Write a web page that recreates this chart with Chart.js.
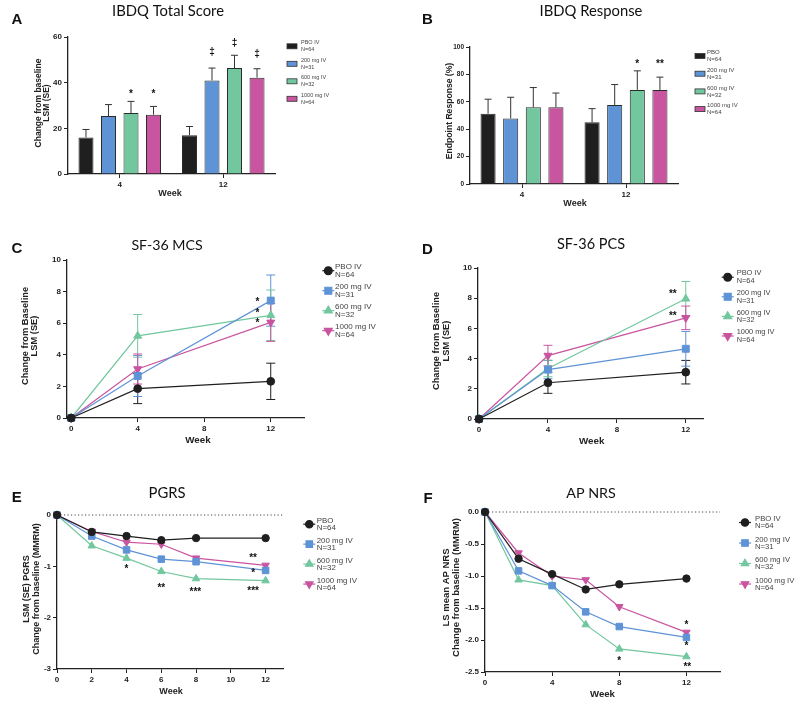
<!DOCTYPE html>
<html>
<head>
<meta charset="utf-8">
<script src="https://cdn.jsdelivr.net/npm/chart.js@4.4.1/dist/chart.umd.min.js"></script>
<style>
  body { margin: 0; background: #fff; }
  #fig { position: relative; width: 800px; height: 708px; }
  canvas { position: absolute; }
</style>
</head>
<body>
<div id="fig">
  <canvas id="pA" width="400" height="215" style="left:0;top:0"></canvas>
  <canvas id="pB" width="400" height="215" style="left:400px;top:0"></canvas>
  <canvas id="pC" width="400" height="238" style="left:0;top:220px"></canvas>
  <canvas id="pD" width="400" height="238" style="left:400px;top:220px"></canvas>
  <canvas id="pE" width="400" height="248" style="left:0;top:460px"></canvas>
  <canvas id="pF" width="400" height="248" style="left:400px;top:460px"></canvas>
</div>
<script>
// Values (arms: PBO, 200, 600, 1000 mg IV)
const ARMS      = ['PBO IV', '200 mg IV', '600 mg IV', '1000 mg IV'];
const ARMS_B    = ['PBO', '200 mg IV', '600 mg IV', '1000 mg IV'];
const ARMS_E    = ['PBO', '200 mg IV', '600 mg IV', '1000 mg IV'];
const N_PER_ARM = ['N=64', 'N=31', 'N=32', 'N=64'];
const COLORS    = ['#1f1f1f', '#5e93d6', '#72c79e', '#c9549f'];
const SHAPES    = ['circle', 'rect', 'triangle', 'triangle'];
const ROTATIONS = [0, 0, 0, 180];

// A / B: bar panels, rows = arm, cols = week 4, week 12
const BAR_WEEKS   = ['4', '12'];
const ibdqTotal   = [[16.0, 17.0], [25.4, 41.0], [26.7, 46.4], [26.0, 42.2]];
const ibdqTotalSE = [[3.5, 3.8], [5.0, 5.4], [5.1, 5.6], [3.6, 3.9]];
const ibdqResp    = [[51.3, 45.0], [47.9, 57.7], [56.0, 68.7], [56.0, 68.7]];
const ibdqRespSE  = [[10.6, 10.0], [15.4, 14.9], [14.4, 13.9], [10.4, 9.3]];

// C / D: SF-36, weeks 0, 4, 12
const SF_WEEKS = [0, 4, 12];
const mcs   = [[0, 1.86, 2.32], [0, 2.66, 7.43], [0, 5.2, 6.5], [0, 3.1, 6.05]];
const mcsSE = [[0, 0.95, 1.15], [0, 1.3, 1.62], [0, 1.35, 1.6], [0, 0.95, 1.2]];
const pcs   = [[0, 2.4, 3.1], [0, 3.27, 4.65], [0, 3.35, 7.96], [0, 4.2, 6.7]];
const pcsSE = [[0, 0.7, 0.78], [0, 0.6, 1.15], [0, 0.55, 1.15], [0, 0.68, 0.78]];

// E / F: weekly PROs
const PRO_WEEKS = [0, 2, 4, 6, 8, 12];
const pgrs  = [[0, -0.33, -0.41, -0.49, -0.45, -0.45],
               [0, -0.41, -0.68, -0.86, -0.91, -1.08],
               [0, -0.60, -0.84, -1.10, -1.24, -1.28],
               [0, -0.32, -0.53, -0.57, -0.84, -0.98]];
const apNrs = [[0, -0.73, -0.97, -1.21, -1.13, -1.04],
               [0, -0.92, -1.15, -1.56, -1.79, -1.96],
               [0, -1.06, -1.15, -1.76, -2.14, -2.26],
               [0, -0.64, -1.00, -1.06, -1.48, -1.88]];

// significance marks. bars: [arm, week index, y, text]; lines: [week, y, text]
const marksA = [[2, 0, 35.9, '*'], [3, 0, 35.9, '*'], [1, 1, 53.4, '‡'], [2, 1, 57.4, '‡'], [3, 1, 52.6, '‡']];
const marksB = [[2, 1, 89.3, '*'], [3, 1, 89.3, '**']];
const marksC = [[11.2, 7.47, '*'], [11.2, 6.79, '*'], [11.2, 6.16, '*']];
const marksD = [[11.25, 8.46, '**'], [11.25, 6.99, '**']];
const marksE = [[4, -1.0, '*'], [6, -1.37, '**'], [7.96, -1.46, '***'], [11.28, -0.79, '**'], [11.28, -1.09, '*'], [11.28, -1.44, '***']];
const marksF = [[8, -2.29, '*'], [12, -1.73, '*'], [12, -2.06, '*'], [12.05, -2.38, '**']];

const INK = '#222';
const FONT = 'Arial, "Liberation Sans", sans-serif';
const TITLE_FONT = 'Lato, "Open Sans", sans-serif';
const Y_BOX = 40, X_BOX = 22;   // fixed axis box sizes so the plot area lands where we want

// per-canvas text/legend layout
const decor = {};

function drawMark(ctx, text, x, y) {
  // asterisks sit high in the em box, nudge them down to centre on y
  ctx.fillText(text, x, text[0] === '*' ? y + 2.5 : y);
}

const decorPlugin = {
  id: 'decor',
  beforeDatasetsDraw(chart) {
    const d = decor[chart.canvas.id];
    if (!d.zeroLine) return;
    const { ctx, chartArea: a } = chart;
    const y = chart.scales.y.getPixelForValue(0);
    ctx.save();
    ctx.strokeStyle = '#444';
    ctx.lineWidth = 1;
    ctx.setLineDash([1.2, 2.3]);
    ctx.beginPath(); ctx.moveTo(a.left, y); ctx.lineTo(a.right, y); ctx.stroke();
    ctx.restore();
  },
  afterDraw(chart) {
    const d = decor[chart.canvas.id];
    const ctx = chart.ctx;
    ctx.save();
    ctx.fillStyle = '#111';
    ctx.textAlign = 'center';

    // letter + title
    ctx.textBaseline = 'alphabetic';
    ctx.font = `bold 15px ${FONT}`;
    ctx.fillText(d.letter, d.letterAt[0], d.letterAt[1]);
    ctx.font = `${d.titleSize}px ${TITLE_FONT}`;
    ctx.fillText(d.title, d.titleAt[0], d.titleAt[1]);

    // axis titles
    ctx.textBaseline = 'middle';
    ctx.fillStyle = INK;
    ctx.font = `bold ${d.xTitleSize}px ${FONT}`;
    ctx.fillText('Week', d.xTitleAt[0], d.xTitleAt[1]);
    ctx.font = `bold ${d.yTitleSize}px ${FONT}`;
    d.yTitle.forEach(([text, x]) => {
      ctx.save();
      ctx.translate(x, d.yTitleMid);
      ctx.rotate(-Math.PI / 2);
      ctx.fillText(text, 0, 0);
      ctx.restore();
    });

    // significance marks
    ctx.fillStyle = '#111';
    ctx.font = `bold 10px ${FONT}`;
    const ys = chart.scales.y;
    if (d.bars) {
      d.marks.forEach(([arm, wk, y, t]) => {
        const bar = chart.getDatasetMeta(arm).data[wk];
        drawMark(ctx, t, bar.x, ys.getPixelForValue(y));
      });
    } else {
      d.marks.forEach(([x, y, t]) => drawMark(ctx, t, chart.scales.x.getPixelForValue(x), ys.getPixelForValue(y)));
    }

    // legend (two-line entries)
    const L = d.legend;
    ctx.textAlign = 'left';
    ctx.font = `${L.size}px ${FONT}`;
    L.names.forEach((name, i) => {
      const my = L.y0 + i * L.dy;
      if (d.bars) {
        ctx.fillStyle = COLORS[i];
        ctx.fillRect(L.mx - 5, my - 2.5, 10, 5);
        ctx.strokeStyle = '#333';
        ctx.lineWidth = 0.8;
        ctx.strokeRect(L.mx - 5, my - 2.5, 10, 5);
      } else {
        ctx.strokeStyle = COLORS[i];
        ctx.fillStyle = COLORS[i];
        ctx.lineWidth = 1.2;
        ctx.beginPath(); ctx.moveTo(L.mx - 6, my); ctx.lineTo(L.mx + 6, my); ctx.stroke();
        Chart.helpers.drawPoint(ctx, { pointStyle: SHAPES[i], rotation: ROTATIONS[i], radius: L.r[i], borderWidth: 1 }, L.mx, my);
      }
      ctx.fillStyle = '#444';
      ctx.fillText(name, L.tx, my - L.gap);
      ctx.fillText(N_PER_ARM[i], L.tx, my + L.gap);
    });
    ctx.restore();
  }
};

const errorBarPlugin = {
  id: 'errorBars',
  beforeDatasetsDraw(chart) { drawErrors(chart, false); },
  afterDatasetsDraw(chart) { drawErrors(chart, true); }
};

function drawErrors(chart, barsPass) {
  const ctx = chart.ctx, ys = chart.scales.y;
  chart.data.datasets.forEach((ds, i) => {
    if (!ds.se) return;
    const isBar = chart.config.type === 'bar';
    if (isBar !== barsPass) return;
    const meta = chart.getDatasetMeta(i);
    ctx.save();
    ctx.strokeStyle = isBar ? '#333' : ds.borderColor;
    ctx.lineWidth = 1;
    meta.data.forEach((pt, j) => {
      const se = ds.se[j];
      if (!se) return;
      const v = isBar ? ds.data[j] : ds.data[j].y;
      const top = ys.getPixelForValue(v + se);
      const bot = isBar ? ys.getPixelForValue(v) : ys.getPixelForValue(v - se);
      const cap = isBar ? 3.5 : 4.5;
      ctx.beginPath();
      ctx.moveTo(pt.x, top); ctx.lineTo(pt.x, bot);
      ctx.moveTo(pt.x - cap, top); ctx.lineTo(pt.x + cap, top);
      if (!isBar) { ctx.moveTo(pt.x - cap, bot); ctx.lineTo(pt.x + cap, bot); }
      ctx.stroke();
    });
    ctx.restore();
  });
}

function tickFont(size) {
  return { color: INK, font: { family: FONT, size: size, weight: 'bold' }, padding: 2, maxRotation: 0, autoSkip: false };
}

function axis(extra, size) {
  return Object.assign({
    grid: { display: true, drawOnChartArea: false, drawTicks: true, tickLength: 4, color: INK, lineWidth: 1 },
    border: { display: true, color: INK, width: 1.3 },
    ticks: tickFont(size || 8)
  }, extra);
}

function padding(canvas, area) {
  // area = [left, top, right, bottom] inside the canvas
  return {
    left: area[0] - Y_BOX,
    top: area[1],
    right: canvas.width - area[2],
    bottom: canvas.height - area[3] - X_BOX
  };
}

function baseOptions(canvas, area, xScale, yScale) {
  return {
    responsive: false,
    animation: false,
    devicePixelRatio: 1,
    layout: { padding: padding(canvas, area), autoPadding: false },
    plugins: { legend: { display: false }, tooltip: { enabled: false } },
    scales: {
      x: Object.assign(xScale, { afterFit: s => { s.height = X_BOX; } }),
      y: Object.assign(yScale, { afterFit: s => { s.width = Y_BOX; } })
    }
  };
}

function barPanel(id, values, se, yMax, area, fontSize) {
  const canvas = document.getElementById(id);
  const opts = baseOptions(canvas, area,
    axis({ grid: { display: true, offset: false, drawOnChartArea: false, tickLength: 4, color: INK } }, 8),
    axis({ min: 0, max: yMax, ticks: Object.assign(tickFont(fontSize), { stepSize: 20 }) }, fontSize));
  return new Chart(canvas, {
    type: 'bar',
    data: {
      labels: BAR_WEEKS,
      datasets: values.map((v, i) => ({
        label: ARMS[i],
        data: v,
        se: se[i],
        backgroundColor: COLORS[i],
        borderColor: '#2b2b2b',
        borderWidth: 1,
        barPercentage: 0.667,
        categoryPercentage: 0.87
      }))
    },
    options: opts,
    plugins: [errorBarPlugin, decorPlugin]
  });
}

function linePanel(id, weeks, values, se, area, xRange, xTicks, yRange, yStep, decimals, r) {
  const canvas = document.getElementById(id);
  const opts = baseOptions(canvas, area,
    axis({
      type: 'linear', min: xRange[0], max: xRange[1],
      afterBuildTicks: s => { s.ticks = xTicks.map(v => ({ value: v })); }
    }),
    axis({
      min: yRange[0], max: yRange[1],
      ticks: Object.assign(tickFont(8), { stepSize: yStep, callback: v => Number(v).toFixed(decimals) })
    }));
  return new Chart(canvas, {
    type: 'line',
    data: {
      datasets: values.map((v, i) => ({
        label: ARMS[i],
        data: weeks.map((w, j) => ({ x: w, y: v[j] })),
        se: se ? se[i] : null,
        borderColor: COLORS[i],
        backgroundColor: COLORS[i],
        borderWidth: 1.2,
        pointStyle: SHAPES[i],
        pointRotation: ROTATIONS[i],
        pointRadius: r[i],
        pointBorderWidth: 1,
        tension: 0,
        clip: false
      }))
    },
    options: opts,
    plugins: [errorBarPlugin, decorPlugin]
  });
}

const R_SF  = [3.9, 4.9, 4.6, 4.6];
const R_PRO = [3.7, 4.6, 4.3, 4.3];

decor.pA = {
  bars: true, letter: 'A', letterAt: [17, 24], title: 'IBDQ Total Score', titleSize: 14.8, titleAt: [168, 16],
  xTitleSize: 9, xTitleAt: [170, 194], yTitleSize: 8.5, yTitleMid: 103,
  yTitle: [['Change from baseline', 38.8], ['LSM (SE)', 47]],
  marks: marksA,
  legend: { names: ARMS, mx: 292, tx: 301, y0: 46.3, dy: 17.5, gap: 3.5, size: 5.5 }
};
decor.pB = {
  bars: true, letter: 'B', letterAt: [27.5, 24], title: 'IBDQ Response', titleSize: 14.8, titleAt: [191, 16],
  xTitleSize: 9, xTitleAt: [175, 203.3], yTitleSize: 8.6, yTitleMid: 111,
  yTitle: [['Endpoint Response (%)', 50]],
  marks: marksB,
  legend: { names: ARMS_B, mx: 300, tx: 307, y0: 56, dy: 17.7, gap: 3.5, size: 6 }
};
decor.pC = {
  letter: 'C', letterAt: [17, 33.3], title: 'SF-36 MCS', titleSize: 14.2, titleAt: [167, 30],
  xTitleSize: 9.8, xTitleAt: [198, 220.3], yTitleSize: 9.3, yTitleMid: 116,
  yTitle: [['Change from Baseline', 25], ['LSM (SE)', 34.5]],
  marks: marksC,
  legend: { names: ARMS, mx: 328.3, tx: 335, y0: 50.7, dy: 20, gap: 3.7, size: 8, r: R_SF }
};
decor.pD = {
  letter: 'D', letterAt: [27.5, 34], title: 'SF-36 PCS', titleSize: 14.5, titleAt: [191, 29.3],
  xTitleSize: 9.8, xTitleAt: [191.7, 220.8], yTitleSize: 9.3, yTitleMid: 121,
  yTitle: [['Change from Baseline', 36.2], ['LSM (SE)', 46.2]],
  marks: marksD,
  legend: { names: ARMS, mx: 327.7, tx: 336.7, y0: 57.2, dy: 19.6, gap: 3.8, size: 7.4, r: R_SF }
};
decor.pE = {
  zeroLine: true, letter: 'E', letterAt: [16.7, 42.3], title: 'PGRS', titleSize: 14.8, titleAt: [167, 38.3],
  xTitleSize: 9, xTitleAt: [171, 231.7], yTitleSize: 9, yTitleMid: 129,
  yTitle: [['LSM (SE) PGRS', 26.2], ['Change from baseline (MMRM)', 37]],
  marks: marksE,
  legend: { names: ARMS_E, mx: 309.3, tx: 316.7, y0: 64.2, dy: 19.95, gap: 3.6, size: 7.9, r: R_PRO }
};
decor.pF = {
  zeroLine: true, letter: 'F', letterAt: [28, 42.7], title: 'AP NRS', titleSize: 14.3, titleAt: [191, 37.7],
  xTitleSize: 9.6, xTitleAt: [202.5, 234.2], yTitleSize: 9.5, yTitleMid: 127.5,
  yTitle: [['LS mean AP NRS', 46.2], ['Change from baseline (MMRM)', 56.7]],
  marks: marksF,
  legend: { names: ARMS, mx: 345, tx: 355, y0: 62.5, dy: 20.5, gap: 3.6, size: 7.7, r: R_PRO }
};

barPanel('pA', ibdqTotal, ibdqTotalSE, 60, [68, 37, 275, 174], 8);
barPanel('pB', ibdqResp, ibdqRespSE, 100, [70, 47, 278, 184], 6.5);
linePanel('pC', SF_WEEKS, mcs, mcsSE, [67, 40, 304, 198], [-0.25, 14], [0, 4, 8, 12], [0, 10], 2, 0, R_SF);
linePanel('pD', SF_WEEKS, pcs, pcsSE, [78, 48, 303, 199], [-0.06, 13], [0, 4, 8, 12], [0, 10], 2, 0, R_SF);
linePanel('pE', PRO_WEEKS, pgrs, null, [57, 55, 283, 209], [0, 13], [0, 2, 4, 6, 8, 10, 12], [-3, 0], 1, 0, R_PRO);
linePanel('pF', PRO_WEEKS, apNrs, null, [85, 52, 320, 212], [0, 14], [0, 4, 8, 12], [-2.5, 0], 0.5, 1, R_PRO);
</script>
</body>
</html>
